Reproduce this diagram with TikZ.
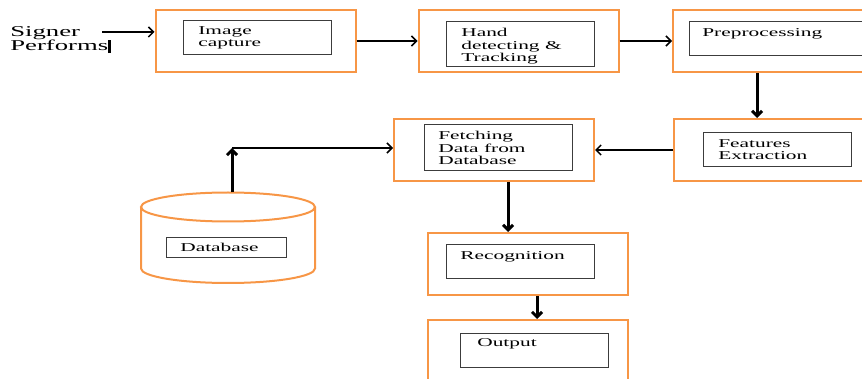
\documentclass[tikz,border=0pt]{standalone}
\usepackage{fontspec}
\setmainfont{Liberation Serif}
\usetikzlibrary{positioning,shapes.geometric,arrows.meta}
\definecolor{boxorange}{RGB}{247,150,70}
\definecolor{boxgray}{RGB}{60,60,60}
\begin{document}
\begin{tikzpicture}[%
		x=1pt, y=-1pt,
		>={Straight Barb[length=5pt,width=10pt]},
		outerbox/.style={%
			draw=boxorange,
			line width=2pt,
			minimum width=200pt,
			minimum height=62pt,
			inner sep=0pt
		},
		innerbox/.style={%
			draw=boxgray,
			line width=1pt,
			minimum width=148pt,
			minimum height=34pt,
			inner sep=0pt
		},
		boxtext/.style={%
			anchor=north west,
			inner sep=0pt,
			align=left,
			xscale=1.78,
			font=\fontsize{12}{12.5}\selectfont
		},
		slim/.style={->, line width=1.5pt},
		fat/.style={->, line width=3pt}
		]
		\clip (0,0) rectangle (862,379);
		% outer boxes
		\node[outerbox] (cap)   at (255.5,41) {};
		\node[outerbox] (hand)  at (518.5,41) {};
		\node[outerbox] (pre)   at (773,41)   {};
		\node[outerbox] (feat)  at (774,150)  {};
		\node[outerbox] (fetch) at (494,150)  {};
		\node[outerbox] (rec)   at (528,264)  {};
		\node[outerbox] (out)   at (528,351)  {};
		% database drum
		\draw[boxorange, line width=2pt] (228,207) ellipse [x radius=87pt, y radius=14.5pt];
		\draw[boxorange, line width=2pt] (141,207) -- (141,268.5)
			arc[start angle=180, end angle=360, x radius=87pt, y radius=14.5pt] -- (315,207);
		\coordinate (dbtop) at (232,192.5);
		% inner boxes
		\node[innerbox] (capin)   at (257,38)    {};
		\node[innerbox, minimum height=45pt] (handin) at (520,44.5) {};
		\node[innerbox, minimum width=180pt] (prein) at (779,39) {};
		\node[innerbox] (featin)  at (777,150)   {};
		\node[innerbox, minimum height=46pt] (fetchin) at (498.5,148) {};
		\node[innerbox, minimum width=120pt, minimum height=20pt] (dbin) at (226,248) {};
		\node[innerbox] (recin)   at (520.5,262) {};
		\node[innerbox] (outin)   at (534.5,350) {};
		% texts
		\node[boxtext, font=\fontsize{15}{14.5}\selectfont] (signer) at (10,26) {Signer\\Performs\rule[-2.5pt]{1.3pt}{13pt}};
		\node[boxtext] (captxt)   at (198,26)  {Image\\capture};
		\node[boxtext] (handtxt)  at (461,28)  {Hand\\detecting \&\\Tracking};
		\node[boxtext] (pretxt)   at (702,28)  {Preprocessing};
		\node[boxtext] (feattxt)  at (718,139) {Features\\Extraction};
		\node[boxtext] (fetchtxt) at (438,131) {Fetching\\Data from\\Database};
		\node[boxtext] (dbtxt)    at (180,243) {Database};
		\node[boxtext] (rectxt)   at (460,251) {Recognition};
		\node[boxtext] (outtxt)   at (477,338) {Output};
		% connectors
		\coordinate (sigout) at (102,32);
		\coordinate (dbturn) at (232,148);
		\draw[slim] (sigout) -- (sigout -| cap.west);
		\path (cap) edge[slim] (hand)
		(hand) edge[slim] (pre)
		(feat) edge[slim] (fetch);
		\draw[fat] ([xshift=-16pt]pre.south) -- ([xshift=-16pt]pre.south |- feat.north);
		\draw[fat] ([xshift=14pt]fetch.south) -- ([xshift=14pt]fetch.south |- rec.north);
		\draw[fat] ([xshift=9pt]rec.south) -- ([xshift=9pt]rec.south |- out.north);
		\draw[fat] (dbtop) -- (dbturn);
		\draw[slim] (dbturn) -- (dbturn -| fetch.west);
\end{tikzpicture}
\end{document}
